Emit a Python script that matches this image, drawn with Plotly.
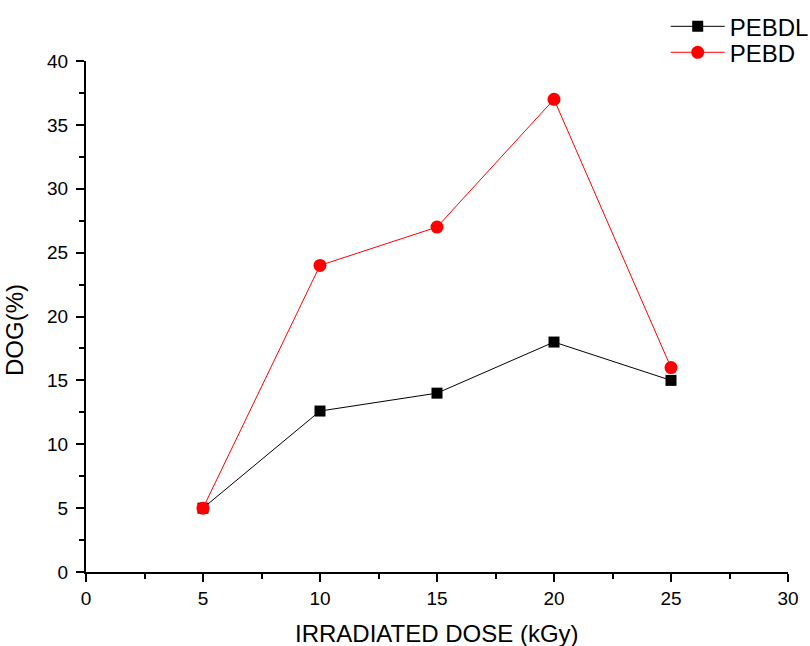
import plotly.graph_objects as go

dose = [5, 10, 15, 20, 25]
pebdl = [5, 12.6, 14, 18, 15]
pebd = [5, 24, 27, 37, 16]

FONT = "Liberation Sans"

fig = go.Figure()
fig.add_trace(go.Scatter(x=dose, y=pebdl, mode="lines+markers", name="PEBDL",
                         line=dict(color="black", width=1),
                         marker=dict(symbol="square", size=11, color="black"),
                         legend="legend"))
fig.add_trace(go.Scatter(x=dose, y=pebd, mode="lines+markers", name="PEBD",
                         line=dict(color="red", width=1),
                         marker=dict(symbol="circle", size=13, color="red"),
                         legend="legend2"))

axis_common = dict(showline=True, linecolor="black", linewidth=2, ticks="outside",
                   ticklen=8, tickwidth=2, tickcolor="black", showgrid=False, zeroline=False,
                   automargin=False,
                   tickfont=dict(family=FONT, size=19, color="black"),
                   minor=dict(ticks="outside", ticklen=5, tickwidth=2, tickcolor="black", dtick=2.5))

fig.update_xaxes(range=[0, 30], dtick=5, tick0=0, ticklabelstandoff=0, **axis_common)
fig.update_yaxes(range=[0, 40], dtick=5, tick0=0, ticklabelstandoff=4, **axis_common)

fig.add_annotation(text="IRRADIATED DOSE (kGy)", xref="paper", yref="paper",
                   x=0.5, y=-0.1194, xanchor="center", yanchor="middle", showarrow=False,
                   font=dict(family=FONT, size=24, color="black"))
fig.add_annotation(text="DOG(%)", xref="paper", yref="paper", textangle=-90,
                   x=-0.1011, y=0.4736, xanchor="center", yanchor="middle", showarrow=False,
                   font=dict(family=FONT, size=24, color="black"))

legend_common = dict(xanchor="left", yanchor="top",
                     font=dict(family=FONT, size=24, color="black"),
                     itemwidth=54, bgcolor="rgba(0,0,0,0)")

fig.update_layout(width=810, height=646, plot_bgcolor="white", paper_bgcolor="white",
                  margin=dict(l=86, r=22, t=61, b=74, autoexpand=False),
                  legend=dict(x=0.8258, y=1.1111, **legend_common),
                  legend2=dict(x=0.8258, y=1.0603, **legend_common),
                  showlegend=True)

fig.write_html("out.html", config={"displayModeBar": False},
               post_script="document.body.style.margin='0';")
